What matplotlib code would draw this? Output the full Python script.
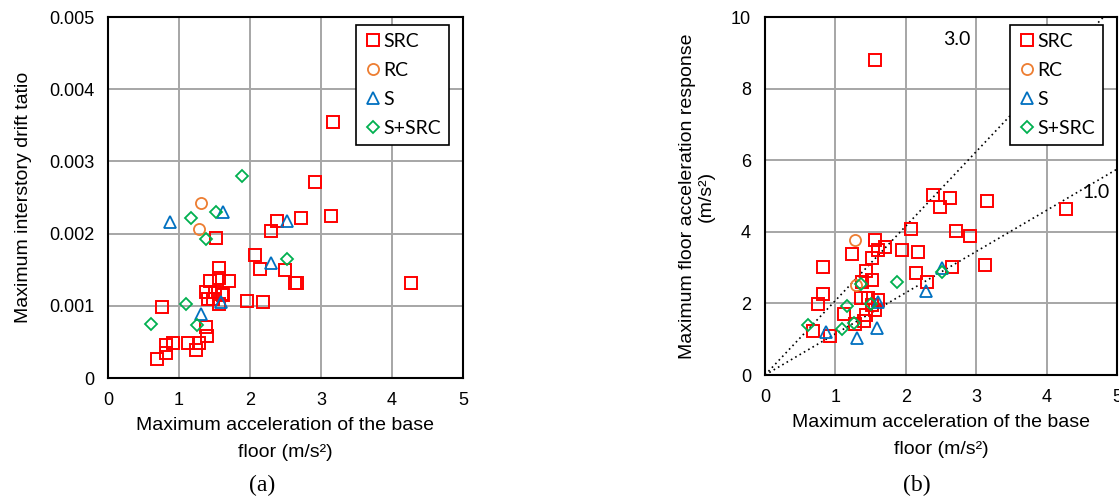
import numpy as np
import matplotlib.pyplot as plt

# (a) base acceleration vs. interstory drift ratio
a_src_x = [3.17, 2.91, 2.72, 3.14, 2.38, 2.30, 1.52, 2.07, 2.14, 2.49, 2.64, 2.66, 4.27,
           1.57, 1.57, 1.43, 1.71, 1.38, 1.51, 1.61, 1.41, 1.48, 1.57, 1.62, 1.96, 2.19,
           0.76, 1.38, 1.40, 0.82, 0.92, 1.12, 1.28, 1.24, 0.82, 0.69]
a_src_y = [0.00355, 0.00271, 0.00221, 0.00225, 0.00217, 0.00203, 0.00194, 0.00171, 0.00151,
           0.00149, 0.00132, 0.00132, 0.00132, 0.00153, 0.00139, 0.00135, 0.00135, 0.00119,
           0.00119, 0.00117, 0.00110, 0.00110, 0.00103, 0.00115, 0.00107, 0.00105, 0.00099,
           0.00071, 0.00058, 0.00046, 0.00049, 0.00049, 0.00049, 0.00039, 0.00035, 0.00026]
a_rc_x = [1.31, 1.28]
a_rc_y = [0.00242, 0.00207]
a_s_x = [0.87, 1.62, 2.52, 2.29, 1.59, 1.31]
a_s_y = [0.00216, 0.00230, 0.00218, 0.00159, 0.00105, 0.00089]
a_ss_x = [1.89, 1.52, 1.17, 1.38, 2.52, 1.10, 0.61, 1.26]
a_ss_y = [0.00280, 0.00230, 0.00221, 0.00192, 0.00165, 0.00103, 0.00075, 0.00074]

# (b) base acceleration vs. floor acceleration response
b_src_x = [1.56, 2.38, 2.63, 2.49, 3.16, 4.27, 2.07, 2.72, 2.91, 1.56, 1.70, 1.60, 1.95,
           2.18, 1.23, 1.52, 0.82, 3.13, 2.65, 1.43, 2.14, 1.52, 2.30, 1.38, 0.82, 0.75,
           1.36, 1.47, 1.61, 1.56, 1.12, 1.43, 1.40, 1.28, 0.68, 0.92, 1.52]
b_src_y = [8.79, 5.04, 4.94, 4.68, 4.85, 4.63, 4.07, 4.03, 3.89, 3.77, 3.58, 3.49, 3.49,
           3.44, 3.39, 3.26, 3.03, 3.08, 3.02, 2.90, 2.84, 2.66, 2.61, 2.61, 2.26, 1.98,
           2.15, 2.15, 2.10, 1.81, 1.71, 1.67, 1.51, 1.43, 1.23, 1.09, 1.95]
b_rc_x = [1.28, 1.29]
b_rc_y = [3.77, 2.52]
b_s_x = [2.51, 2.28, 1.61, 1.59, 1.31, 0.86]
b_s_y = [2.98, 2.35, 2.05, 1.32, 1.04, 1.20]
b_ss_x = [2.51, 1.88, 1.37, 1.51, 1.17, 1.26, 1.10, 0.61]
b_ss_y = [2.89, 2.61, 2.53, 1.99, 1.94, 1.44, 1.28, 1.40]

ref_slopes = [2.08, 1.15]
ref_labels = ["3.0", "1.0"]
ref_label_x = [2.72, 4.70]
ref_label_y = [9.36, 5.10]

W, H = 1119, 498
fig = plt.figure(figsize=(W / 100, H / 100), dpi=100)

sans = ["Liberation Sans", "DejaVu Sans"]
leg_font = ["Lato", "DejaVu Sans"]
grid_c = "#a6a6a6"


def px_axes(x0, y0, x1, y1):
    return fig.add_axes([x0 / W, 1 - y1 / H, (x1 - x0) / W, (y1 - y0) / H])


def draw_points(ax, sx, sy, rx, ry, tx, ty, dx, dy):
    ax.plot(sx, sy, "s", ms=8.5, mfc="none", mec="#ff0000", mew=1.4, label="SRC", zorder=3)
    ax.plot(rx, ry, "o", ms=8, mfc="none", mec="#ed7d31", mew=1.3, label="RC", zorder=3)
    ax.plot(tx, ty, "^", ms=8, mfc="none", mec="#0070c0", mew=1.3, label="S", zorder=3)
    ax.plot(dx, dy, "D", ms=6.5, mfc="none", mec="#00b050", mew=1.3, label="S+SRC", zorder=3)


def style(ax, xlim, ylim, yticks, ylabels):
    ax.set_xlim(*xlim)
    ax.set_ylim(*ylim)
    ax.set_xticks(range(0, 6))
    ax.set_xticklabels([str(i) for i in range(6)], family=sans, fontsize=13)
    ax.set_yticks(yticks)
    ax.set_yticklabels(ylabels, family=sans, fontsize=13)
    ax.tick_params(length=0, pad=10)
    ax.grid(True, color=grid_c, lw=1.4)
    ax.set_axisbelow(True)
    for s in ax.spines.values():
        s.set_linewidth(1.5)
        s.set_color("black")
    ax.set_xlabel("Maximum acceleration of the base\nfloor (m/s\u00b2)",
                  family=sans, fontsize=14, labelpad=6, linespacing=1.75)
    leg = ax.legend(loc="upper right", bbox_to_anchor=(0.96, 0.978), borderaxespad=0,
                    frameon=True, fancybox=False, edgecolor="black", framealpha=1,
                    prop={"family": leg_font, "size": 14}, handletextpad=0.1,
                    handlelength=0.9, borderpad=0.4, labelspacing=0.62)
    leg.get_frame().set_linewidth(1.2)


# (a)
ax1 = px_axes(108, 17, 463, 378)
draw_points(ax1, a_src_x, a_src_y, a_rc_x, a_rc_y, a_s_x, a_s_y, a_ss_x, a_ss_y)
style(ax1, (0, 5), (0, 0.005), np.arange(0, 0.0051, 0.001),
      ["0", "0.001", "0.002", "0.003", "0.004", "0.005"])
ax1.set_ylabel("Maximum interstory drift tatio", family=sans, fontsize=14, labelpad=12)

# (b)
ax2 = px_axes(765, 17, 1117, 375)
for k, lab, lx, ly in zip(ref_slopes, ref_labels, ref_label_x, ref_label_y):
    xe = min(5.0, 10.0 / k)
    ax2.plot([0, xe], [0, k * xe], ls=(0, (1, 2)), color="black", lw=1.2, zorder=2)
    ax2.text(lx, ly, lab, family=leg_font, fontsize=14, ha="center", va="center")
draw_points(ax2, b_src_x, b_src_y, b_rc_x, b_rc_y, b_s_x, b_s_y, b_ss_x, b_ss_y)
style(ax2, (0, 5), (0, 10), range(0, 11, 2), [str(v) for v in range(0, 11, 2)])
ax2.set_ylabel("Maximum floor acceleration response\n(m/s\u00b2)", family=sans,
               fontsize=14, labelpad=12, linespacing=1.1)

fig.text(262 / W, 1 - 485 / H, "(a)", family=["Liberation Serif", "DejaVu Serif"],
         fontsize=17, ha="center", va="center")
fig.text(917 / W, 1 - 485 / H, "(b)", family=["Liberation Serif", "DejaVu Serif"],
         fontsize=17, ha="center", va="center")

fig.savefig("out.png", dpi=100)
